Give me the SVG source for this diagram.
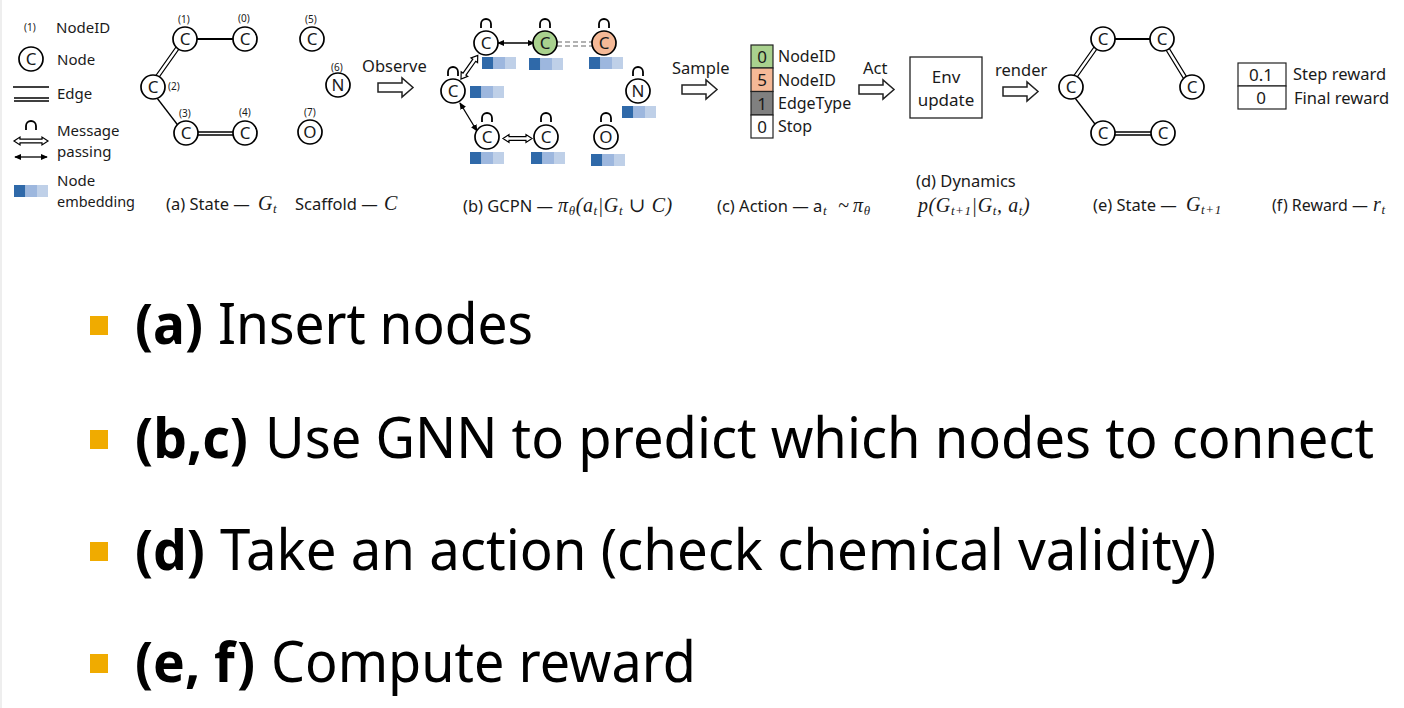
<svg xmlns="http://www.w3.org/2000/svg" width="1404" height="708" viewBox="0 0 1404 708">
<style>
text{font-family:"Noto Sans","Open Sans","Liberation Sans",sans-serif;fill:#1a1a1a;font-size:16px}
.m{font-family:"Liberation Serif","DejaVu Serif",serif;font-style:italic;font-size:20px;letter-spacing:.6px}
.sub{font-size:13px}
.s{font-size:10px}
.l{font-size:15px}
.n{font-size:17px;text-anchor:middle}
.t{font-size:16.500px}
.big{font-size:56px;fill:#000}
.b{font-weight:700}
.ln{fill:none;stroke:#000;stroke-width:1.8}
.thin{fill:none;stroke:#000;stroke-width:1.300}
.bar{fill:#f0ab00}
.arr{fill:#fff;stroke:#222;stroke-width:1.500}
.dbl{fill:#fff;stroke:#000;stroke-width:1.200}
circle{fill:#fff;stroke:#000;stroke-width:1.700}
.cell{stroke:#222;stroke-width:1.200}
</style>
<defs>
<g id="emb"><rect width="11.500" height="12" fill="#2f69a9"/><rect x="11.500" width="11.500" height="12" fill="#9db7de"/><rect x="23" width="11" height="12" fill="#bfd0e8"/></g>
<path id="loop" class="ln" d="M-5 6V2a5 5 0 0 1 10 0V6"/>
<path id="bigarr" class="arr" d="M0 5H24V0L35 9.500L24 19V14H0Z"/>
<marker id="ah" viewBox="0 0 8 8" refX="7" refY="4" markerWidth="5.500" markerHeight="5.500" orient="auto-start-reverse"><path d="M0 0.500L8 4L0 7.500Z" fill="#000"/></marker>
</defs>
<rect width="2" height="708" fill="#eeeeee"/>

<g id="connectors">
<path class="ln" d="M185 39H245"/>
<path class="thin" d="M176 47L152 81M179 49L155 83"/>
<path class="thin" d="M157 98L180 128"/>
<path class="thin" d="M186 132H245M186 135H245"/>
<path class="thin" d="M498 43H534" marker-start="url(#ah)" marker-end="url(#ah)"/>
<path d="M557 42H592M557 46H592" fill="none" stroke="#999" stroke-width="1.300" stroke-dasharray="5 3"/>
<path class="dbl" transform="translate(461 79) rotate(-54.700)" d="M0 0L6 -4V-1.800H23V-4L29 0L23 4V1.800H6V4Z"/>
<path class="thin" d="M460 103L477 131" marker-start="url(#ah)" marker-end="url(#ah)"/>
<path class="dbl" transform="translate(503 138.500)" d="M0 0L6 -4V-1.800H23V-4L29 0L23 4V1.800H6V4Z"/>
<path class="ln" d="M1103 39H1162"/>
<path class="thin" d="M1094 47L1070 81M1097 49L1073 83"/>
<path class="thin" d="M1169 48L1188 79M1166 50L1185 81"/>
<path class="thin" d="M1075 98L1098 128"/>
<path class="thin" d="M1103 132H1163M1103 135H1163"/>
<use href="#bigarr" x="378" y="78"/>
<use href="#bigarr" x="682" y="80"/>
<use href="#bigarr" x="859" y="80"/>
<use href="#bigarr" x="1003" y="82"/>
</g>

<g id="legend">
<text class="s" x="24" y="31">(1)</text><text class="l" x="56" y="33">NodeID</text>
<circle cx="31" cy="59" r="12"/><text class="n" x="31" y="65">C</text><text class="l" x="57" y="65">Node</text>
<path class="thin" d="M13 87H49M14 98H49M14 101H49"/><text class="l" x="57" y="99">Edge</text>
<use href="#loop" x="31" y="124"/>
<path class="dbl" transform="translate(14 141)" d="M0 0L6 -4V-1.800H28V-4L34 0L28 4V1.800H6V4Z"/>
<path class="thin" d="M15 157H47" marker-start="url(#ah)" marker-end="url(#ah)"/>
<text class="l" x="57" y="136">Message</text><text class="l" x="57" y="157">passing</text>
<use href="#emb" x="14" y="185"/>
<text class="l" x="57" y="186">Node</text><text class="l" x="57" y="207" textLength="78" lengthAdjust="spacingAndGlyphs">embedding</text>
</g>

<g id="state">
<g id="a1"><circle cx="185" cy="39" r="12"/><text class="n" x="185" y="45">C</text><text class="s" x="178" y="23">(1)</text></g>
<g id="a0"><circle cx="245" cy="39" r="12"/><text class="n" x="245" y="45">C</text><text class="s" x="238" y="22">(0)</text></g>
<g id="a2"><circle cx="153" cy="87" r="12"/><text class="n" x="153" y="93">C</text><text class="s" x="168" y="90">(2)</text></g>
<g id="a3"><circle cx="186" cy="133" r="12"/><text class="n" x="186" y="139">C</text><text class="s" x="179" y="117">(3)</text></g>
<g id="a4"><circle cx="245" cy="133" r="12"/><text class="n" x="245" y="139">C</text><text class="s" x="239" y="116">(4)</text></g>
<g id="a5"><circle cx="312" cy="39" r="12"/><text class="n" x="312" y="45">C</text><text class="s" x="305" y="23">(5)</text></g>
<g id="a6"><circle cx="338" cy="85" r="12"/><text class="n" x="338" y="91">N</text><text class="s" x="331" y="71">(6)</text></g>
<g id="a7"><circle cx="310" cy="132" r="12"/><text class="n" x="310" y="138">O</text><text class="s" x="304" y="116">(7)</text></g>
</g>

<g id="gcpn">
<g id="b1"><use href="#loop" x="486" y="22"/><circle cx="486" cy="43" r="12"/><text class="n" x="486" y="49">C</text><use href="#emb" x="482" y="57"/></g>
<g id="b0"><use href="#loop" x="545" y="22"/><circle cx="545" cy="43" r="12" style="fill:#a9d18e"/><text class="n" x="545" y="49">C</text><use href="#emb" x="529" y="58"/></g>
<g id="b5"><use href="#loop" x="604" y="22"/><circle cx="604" cy="43" r="12" style="fill:#f5b997"/><text class="n" x="604" y="49">C</text><use href="#emb" x="589" y="57"/></g>
<g id="b2"><use href="#loop" x="453" y="70"/><circle cx="453" cy="91" r="12"/><text class="n" x="453" y="97">C</text><use href="#emb" x="470" y="86"/></g>
<g id="b6"><use href="#loop" x="638" y="70"/><circle cx="638" cy="91" r="12"/><text class="n" x="638" y="97">N</text><use href="#emb" x="622" y="106"/></g>
<g id="b3"><use href="#loop" x="487" y="116"/><circle cx="487" cy="137" r="12"/><text class="n" x="487" y="143">C</text><use href="#emb" x="470" y="152"/></g>
<g id="b4"><use href="#loop" x="546" y="116"/><circle cx="546" cy="137" r="12"/><text class="n" x="546" y="143">C</text><use href="#emb" x="531" y="152"/></g>
<g id="b7"><use href="#loop" x="606" y="116"/><circle cx="606" cy="137" r="12"/><text class="n" x="606" y="143">O</text><use href="#emb" x="591" y="154"/></g>
</g>

<g id="action">
<rect class="cell" x="751" y="45" width="22" height="23" fill="#a9d18e"/><text class="n" x="762" y="63">0</text><text x="778" y="62">NodeID</text>
<rect class="cell" x="751" y="68" width="22" height="23.500" fill="#f5b997"/><text class="n" x="762" y="86">5</text><text x="778" y="86">NodeID</text>
<rect class="cell" x="751" y="91.500" width="22" height="23.500" fill="#808080"/><text class="n" x="762" y="110">1</text><text x="778" y="109">EdgeType</text>
<rect class="cell" x="751" y="115" width="22" height="23" fill="#fff"/><text class="n" x="762" y="133">0</text><text x="778" y="132">Stop</text>
</g>

<g id="env"><rect x="910" y="57" width="72" height="61" fill="#fff" stroke="#222" stroke-width="1.300"/><text class="n" x="946" y="83">Env</text><text class="n" x="946" y="106">update</text></g>

<g id="next">
<circle cx="1103" cy="39" r="12"/><text class="n" x="1103" y="45">C</text>
<circle cx="1162" cy="39" r="12"/><text class="n" x="1162" y="45">C</text>
<circle cx="1071" cy="87" r="12"/><text class="n" x="1071" y="93">C</text>
<circle cx="1192" cy="87" r="12"/><text class="n" x="1192" y="93">C</text>
<circle cx="1103" cy="133" r="12"/><text class="n" x="1103" y="139">C</text>
<circle cx="1163" cy="133" r="12"/><text class="n" x="1163" y="139">C</text>
</g>

<g id="reward">
<rect class="cell" x="1238" y="63" width="48" height="23" fill="#fff"/><text class="n" x="1261" y="81">0.1</text>
<rect class="cell" x="1238" y="86" width="48" height="23" fill="#fff"/><text class="n" x="1261" y="104">0</text>
<text class="t" x="1293" y="80">Step reward</text><text class="t" x="1294" y="104">Final reward</text>
</g>

<g id="labels">
<text class="t" x="362" y="72">Observe</text>
<text class="t" x="672" y="74">Sample</text>
<text class="t" x="863" y="74">Act</text>
<text class="t" x="995" y="76">render</text>
<text class="t" x="166" y="210">(a) State —</text><text class="m" x="258" y="210">G<tspan class="sub" dy="3">t</tspan></text>
<text class="t" x="295" y="210">Scaffold —</text><text class="m" x="384" y="210">C</text>
<text class="t" x="463" y="212">(b) GCPN —</text><text class="m" x="558" y="212">π<tspan class="sub" dy="3">θ</tspan><tspan dy="-3">(a</tspan><tspan class="sub" dy="3">t</tspan><tspan dy="-3">|G</tspan><tspan class="sub" dy="3">t</tspan><tspan dy="-3"> ∪ C)</tspan></text>
<text class="t" x="717" y="212">(c) Action — a</text><text class="m sub" x="823" y="215">t</text><text class="m" x="838" y="212">~</text><text class="m" x="853" y="212">π<tspan class="sub" dy="3">θ</tspan></text>
<text class="t" x="916" y="187">(d) Dynamics</text>
<text class="m" x="918" y="212">p(G<tspan class="sub" dy="3">t+1</tspan><tspan dy="-3">|G</tspan><tspan class="sub" dy="3">t</tspan><tspan dy="-3">, a</tspan><tspan class="sub" dy="3">t</tspan><tspan dy="-3">)</tspan></text>
<text class="t" x="1093" y="211">(e) State —</text><text class="m" x="1186" y="211">G<tspan class="sub" dy="3">t+1</tspan></text>
<text class="t" x="1272" y="211" textLength="96" lengthAdjust="spacingAndGlyphs">(f) Reward —</text><text class="m" x="1373" y="211">r<tspan class="sub" dy="3">t</tspan></text>
</g>

<g id="bullets">
<rect class="bar" x="90" y="316" width="18" height="19"/>
<text class="big b" x="135" y="344" textLength="68" lengthAdjust="spacingAndGlyphs">(a)</text>
<text class="big" x="218" y="344" textLength="315" lengthAdjust="spacingAndGlyphs">Insert nodes</text>
<rect class="bar" x="90" y="430" width="18" height="19"/>
<text class="big b" x="135" y="458" textLength="113" lengthAdjust="spacingAndGlyphs">(b,c)</text>
<text class="big" transform="translate(265 458) scale(.93 1)" textLength="1192.500" lengthAdjust="spacingAndGlyphs">Use GNN to predict which nodes to connect</text>
<rect class="bar" x="90" y="542" width="18" height="19"/>
<text class="big b" x="135" y="570" textLength="70" lengthAdjust="spacingAndGlyphs">(d)</text>
<text class="big" x="220" y="570" textLength="996" lengthAdjust="spacingAndGlyphs">Take an action (check chemical validity)</text>
<rect class="bar" x="90" y="654" width="18" height="19"/>
<text class="big b" x="135" y="682" textLength="120" lengthAdjust="spacingAndGlyphs">(e, f)</text>
<text class="big" x="271" y="682" textLength="425" lengthAdjust="spacingAndGlyphs">Compute reward</text>
</g>
</svg>
